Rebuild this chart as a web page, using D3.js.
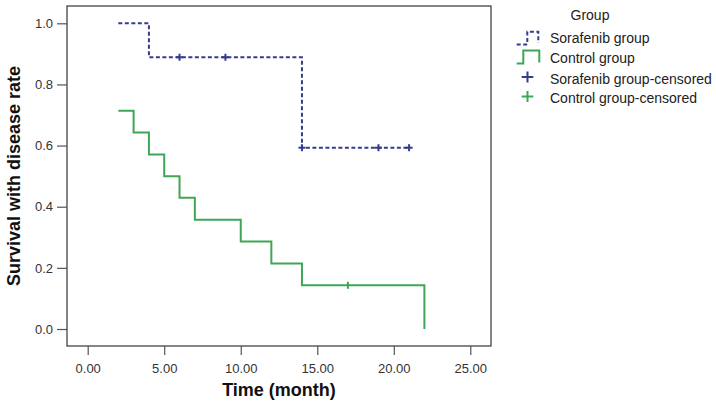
<!DOCTYPE html>
<html><head><meta charset="utf-8">
<script src="https://cdn.jsdelivr.net/npm/d3@7/dist/d3.min.js"></script>
<style>body{margin:0;background:#fff;} svg{display:block;font-family:"Liberation Sans",Arial,sans-serif;}</style>
</head><body><svg id="c" width="716" height="406"></svg>
<script>
// Data
const sorafenibTimes = [2, 4, 14, 21];
const sorafenibSurv  = [1.0, 0.889, 0.593, 0.593];
const sorafenibCensored = [6, 9, 14, 19, 21];
const controlTimes = [2, 3, 4, 5, 6, 7, 10, 12, 14, 22];
const controlSurv  = [0.714, 0.643, 0.571, 0.5, 0.429, 0.357, 0.286, 0.214, 0.143, 0.143];
const controlEnd = [22, 0];
const controlCensored = [17];
const xTicks = [0, 5, 10, 15, 20, 25];
const yTicks = [0.0, 0.2, 0.4, 0.6, 0.8, 1.0];
const legendLabels = ["Sorafenib group", "Control group", "Sorafenib group-censored", "Control group-censored"];

const blue = "#363b8c", green = "#3fa655";
const svg = d3.select("#c");
const x = d3.scaleLinear().domain([0, 25]).range([87.7, 470.3]);
const y = d3.scaleLinear().domain([0, 1]).range([329, 23.3]);

// frame
svg.append("rect").attr("x", 67).attr("y", 6).attr("width", 424).attr("height", 340)
  .attr("fill", "none").attr("stroke", "#444").attr("stroke-width", 1.3);

// axes
const yAxis = d3.axisLeft(y).tickValues(yTicks).tickFormat(d3.format(".1f")).tickSize(10).tickPadding(4);
const gy = svg.append("g").attr("transform", "translate(67,0)").call(yAxis);
gy.select(".domain").remove();
const xAxis = d3.axisBottom(x).tickValues(xTicks).tickFormat(d3.format(".2f")).tickSize(9).tickPadding(9);
const gx = svg.append("g").attr("transform", "translate(0,346)").call(xAxis);
gx.select(".domain").remove();
[gx, gy].forEach(g => {
  g.selectAll("line").attr("stroke", "#555").attr("stroke-width", 1.2);
  g.selectAll("text").attr("font-size", 13).attr("fill", "#333").attr("font-family", "Liberation Sans, Arial, sans-serif");
});

// titles
svg.append("text").attr("x", 279).attr("y", 396).attr("text-anchor", "middle")
  .attr("font-size", 18).attr("font-weight", "bold").attr("fill", "#111").text("Time (month)");
svg.append("text").attr("transform", "translate(20,176) rotate(-90)").attr("text-anchor", "middle")
  .attr("font-size", 18).attr("font-weight", "bold").attr("fill", "#111").text("Survival with disease rate");

// step lines
const sData = sorafenibTimes.map((t, i) => [t, sorafenibSurv[i]]);
const cData = controlTimes.map((t, i) => [t, controlSurv[i]]);
const line = d3.line().x(d => x(d[0])).y(d => y(d[1])).curve(d3.curveStepAfter);
svg.append("path").attr("d", line(sData)).attr("fill", "none").attr("stroke", blue)
  .attr("stroke-width", 2).attr("stroke-dasharray", "4,2.5");
svg.append("path").attr("d", line(cData) + "V" + y(controlEnd[1]))
  .attr("fill", "none").attr("stroke", green).attr("stroke-width", 2);

// survival lookup
function survAt(times, surv, t) { let v = surv[0]; times.forEach((tt, i) => { if (t >= tt) v = surv[i]; }); return v; }
// censor marks
sorafenibCensored.forEach(t => {
  const cx = x(t), cy = y(survAt(sorafenibTimes, sorafenibSurv, t));
  svg.append("line").attr("x1", cx).attr("x2", cx).attr("y1", cy - 3.5).attr("y2", cy + 3.5).attr("stroke", blue).attr("stroke-width", 2);
  svg.append("line").attr("x1", cx - 3.5).attr("x2", cx + 3.5).attr("y1", cy).attr("y2", cy).attr("stroke", blue).attr("stroke-width", 2);
});
controlCensored.forEach(t => {
  const cx = x(t), cy = y(survAt(controlTimes, controlSurv, t));
  svg.append("line").attr("x1", cx).attr("x2", cx).attr("y1", cy - 3.5).attr("y2", cy + 3.5).attr("stroke", green).attr("stroke-width", 2);
});

// legend
svg.append("text").attr("x", 590).attr("y", 20).attr("text-anchor", "middle").attr("font-size", 14).attr("fill", "#222").text("Group");
const ly = [37.7, 58.3, 79, 97.5];
legendLabels.forEach((l, i) => {
  svg.append("text").attr("x", 550).attr("y", ly[i] + 5).attr("font-size", 14).attr("fill", "#222").text(l);
});
svg.append("path").attr("d", "M516.7,44.5H527.3V31.7H538.3V43").attr("fill", "none").attr("stroke", blue)
  .attr("stroke-width", 2).attr("stroke-dasharray", "4,2.5");
svg.append("path").attr("d", "M516.7,63.5H523.3V50.5H539.3V62.5").attr("fill", "none").attr("stroke", green).attr("stroke-width", 2);
[[blue, 77], [green, 96.5]].forEach(([c, cy]) => {
  svg.append("line").attr("x1", 527.5).attr("x2", 527.5).attr("y1", cy - 5.5).attr("y2", cy + 5.5).attr("stroke", c).attr("stroke-width", 2);
  svg.append("line").attr("x1", 521.7).attr("x2", 533.3).attr("y1", cy).attr("y2", cy).attr("stroke", c).attr("stroke-width", 2);
});
</script></body></html>
